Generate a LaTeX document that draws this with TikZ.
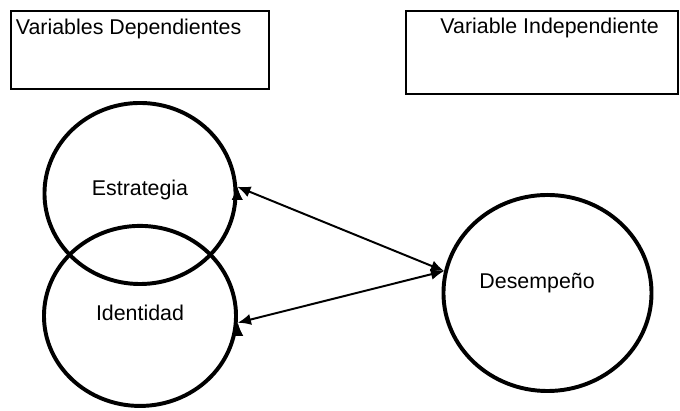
\documentclass[tikz,border=0pt]{standalone}
\usepackage{fontspec}
\setmainfont{Liberation Sans}
\usepackage{tikz}
\usetikzlibrary{arrows.meta, shapes.geometric, positioning}

\begin{document}
\begin{tikzpicture}[x=0.025cm,y=-0.025cm,<->,>={Latex[length=0.33cm,width=0.28cm]},
 line width=1.4pt,node distance=3.06cm,font=\fontsize{15.2pt}{18pt}\selectfont,
 var node/.style={ellipse,draw,line width=2.8pt,inner sep=0pt},
 box node/.style={rectangle,draw,line width=1pt,inner sep=0pt}]

  \useasboundingbox (0,0) rectangle (680,411);

  \node[box node,minimum width=6.45cm,minimum height=1.95cm] (dep) at (140,50)
   [label={[name=deplbl,anchor=north west,yshift=-0.08cm]north west:Variables Dependientes}] {};
  \node[box node,minimum width=6.8cm,minimum height=2.075cm] (ind) at (542,52.5)
   [label={[name=indlbl,anchor=north,xshift=0.19cm,yshift=-0.05cm]north:Variable Independiente}] {};

  \node[var node,minimum width=4.775cm,minimum height=4.525cm] (est) at (140,193.5)
   [label={[name=estlbl,anchor=base,yshift=0.09cm]center:Estrategia}] {};
  \node[var node,minimum width=4.8cm,minimum height=4.5cm] (ide) [below of=est]
   [label={[name=idelbl,anchor=base,yshift=0.08cm]center:Identidad}] {};
  \node[var node,minimum width=5.2cm,minimum height=4.9cm] (des) at (547.5,293)
   [label={[name=deslbl,anchor=base,xshift=-0.26cm,yshift=0.25cm]center:Desempeño}] {};

  \foreach \s/\t in {est.4/des.168, ide.-4/des.168} {
   \path[draw] (\s) edge (\t);}

\end{tikzpicture}
\end{document}
